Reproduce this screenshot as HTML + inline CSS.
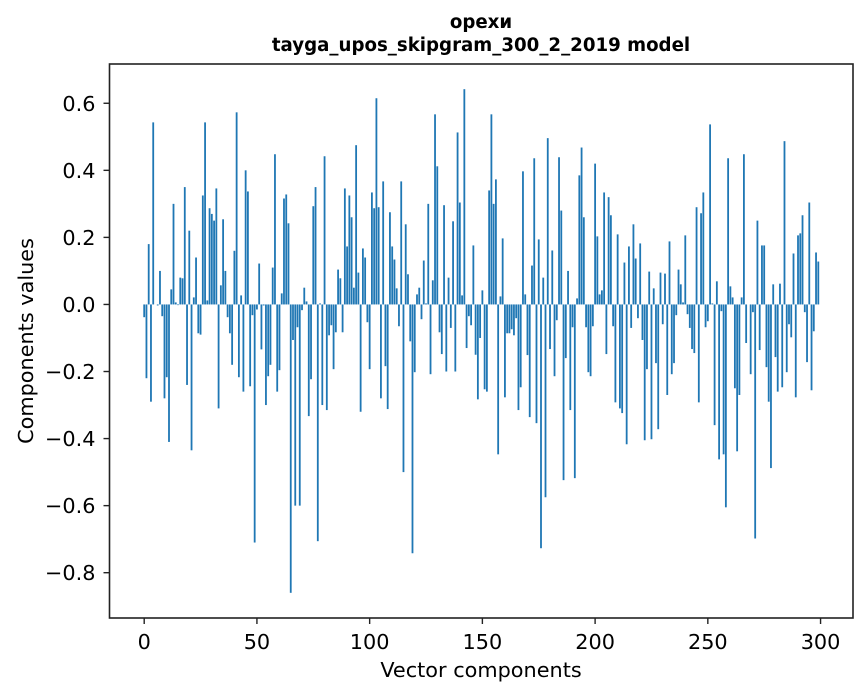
<!DOCTYPE html>
<html><head><meta charset="utf-8"><style>
html,body{margin:0;padding:0;background:#fff;}
svg{display:block;font-family:"DejaVu Sans","Liberation Sans",sans-serif;}
</style></head><body>
<svg id="chart" width="867" height="696" viewBox="0 0 867 696" xmlns="http://www.w3.org/2000/svg">
<rect width="867" height="696" fill="#fff"/>
<text x="481" y="28" text-anchor="middle" font-size="18.2" font-weight="bold" fill="#000">орехи</text>
<text x="481" y="51" text-anchor="middle" font-size="18.2" font-weight="bold" fill="#000">tayga_upos_skipgram_300_2_2019 model</text>
<g id="bars"></g>
<g id="axes"></g>
<text x="481" y="677" text-anchor="middle" font-size="20.8" fill="#000">Vector components</text>
<text transform="translate(33,341) rotate(-90)" text-anchor="middle" font-size="20.8" fill="#000">Components values</text>
</svg>
<script>
const values = [
-0.038,-0.22,0.18,-0.29,0.543,0.0,-0.003,0.10,-0.035,-0.28,
-0.217,-0.41,0.045,0.30,0.006,-0.002,0.08,0.078,0.35,-0.24,
0.22,-0.435,0.021,0.14,-0.086,-0.09,0.325,0.543,0.012,0.287,
0.27,0.25,0.346,-0.31,0.057,0.254,0.10,-0.038,-0.086,-0.18,
0.16,0.573,-0.217,0.027,-0.26,0.40,0.337,-0.244,-0.032,-0.71,
-0.015,0.122,-0.134,-0.003,-0.30,-0.214,-0.18,0.11,0.448,-0.26,
-0.196,0.033,0.316,0.328,0.242,-0.86,-0.106,-0.60,-0.068,-0.60,
-0.017,0.05,0.009,-0.333,-0.223,0.293,0.35,-0.706,0.003,-0.30,
0.442,-0.315,-0.092,-0.062,-0.193,-0.083,0.104,0.078,-0.083,0.346,
0.173,0.325,0.26,0.05,0.475,0.095,-0.32,0.167,0.14,-0.053,
-0.193,0.334,0.287,0.615,0.29,-0.28,0.367,-0.184,-0.312,0.275,
0.173,0.134,0.048,-0.065,0.367,-0.50,0.239,0.09,-0.11,-0.742,
-0.202,0.03,0.05,-0.044,0.131,0.003,0.30,-0.208,0.072,0.567,
0.412,-0.083,-0.148,0.296,-0.2,0.08,-0.07,0.248,-0.2,0.513,
0.304,0.027,0.642,-0.13,-0.035,-0.062,0.176,-0.15,-0.283,-0.10,
0.042,-0.253,-0.26,0.34,0.567,0.30,0.373,-0.447,0.024,0.197,
-0.277,-0.086,-0.086,-0.074,-0.092,-0.041,-0.315,-0.247,0.397,0.03,
-0.151,-0.336,0.116,0.436,-0.354,0.194,-0.727,0.08,-0.575,0.496,
-0.133,0.161,-0.214,-0.047,0.439,0.28,-0.524,-0.16,0.10,-0.315,
-0.068,-0.518,0.018,0.385,0.468,0.26,-0.068,-0.202,-0.214,-0.065,
0.42,0.203,0.03,0.042,0.334,-0.148,0.32,0.266,-0.065,-0.292,
0.209,-0.31,-0.324,0.125,-0.417,0.173,-0.07,0.239,0.137,-0.041,
0.182,-0.106,-0.405,-0.193,0.098,-0.402,0.048,-0.175,-0.372,0.095,
-0.059,0.092,-0.27,0.188,-0.208,-0.175,-0.032,0.104,0.06,0.006,
0.206,-0.029,-0.07,-0.133,-0.145,0.29,-0.292,0.272,0.334,-0.068,
-0.05,0.537,0.003,-0.36,0.069,-0.462,-0.02,-0.447,-0.605,0.436,
0.054,0.021,-0.25,-0.438,-0.27,0.021,0.448,-0.115,0.0,-0.208,
-0.023,-0.698,0.25,-0.136,0.176,0.176,-0.187,-0.29,-0.488,0.06,
-0.157,-0.26,0.062,-0.247,0.487,-0.202,-0.059,-0.098,0.152,-0.277,
0.206,0.212,0.266,-0.023,-0.172,0.304,-0.256,-0.08,0.155,0.128
];
const xTicks = [0,50,100,150,200,250,300];
const yTicks = [-0.8,-0.6,-0.4,-0.2,0.0,0.2,0.4,0.6];
const yTickLabels = ["\u22120.8","\u22120.6","\u22120.4","\u22120.2","0.0","0.2","0.4","0.6"];

const NS = "http://www.w3.org/2000/svg";
const L = 109.5, R = 853, T = 64, B = 618;
const n = values.length;
const xmin = -0.4 - 0.05*(n-0.2), xmax = (n-1)+0.4 + 0.05*(n-0.2);
const vmax = Math.max(0, ...values), vmin = Math.min(0, ...values);
const ymin = vmin - 0.05*(vmax-vmin), ymax = vmax + 0.05*(vmax-vmin);
const xs = v => L + (v - xmin)/(xmax - xmin)*(R - L);
const ys = v => B - (v - ymin)/(ymax - ymin)*(B - T);

const bars = document.getElementById('bars');
values.forEach((v,i) => {
  const r = document.createElementNS(NS,'rect');
  const x0 = xs(i-0.4), x1 = xs(i+0.4);
  const y0 = ys(Math.max(v,0)), y1 = ys(Math.min(v,0));
  r.setAttribute('x', x0); r.setAttribute('width', x1-x0);
  r.setAttribute('y', y0); r.setAttribute('height', Math.max(y1-y0,0));
  r.setAttribute('fill', '#1f77b4');
  
  
  bars.appendChild(r);
});

const axes = document.getElementById('axes');
const frame = document.createElementNS(NS,'rect');
frame.setAttribute('x', L); frame.setAttribute('y', T);
frame.setAttribute('width', R-L); frame.setAttribute('height', B-T);
frame.setAttribute('fill','none'); frame.setAttribute('stroke','#222'); frame.setAttribute('stroke-width','1.6');


axes.appendChild(frame);

xTicks.forEach(t => {
  const x = xs(t);
  const ln = document.createElementNS(NS,'line');
  ln.setAttribute('x1',x); ln.setAttribute('x2',x); ln.setAttribute('y1',B); ln.setAttribute('y2',B+6);
  ln.setAttribute('stroke','#222'); ln.setAttribute('stroke-width','1.4');
  
  
  axes.appendChild(ln);
  const tx = document.createElementNS(NS,'text');
  tx.setAttribute('x',x); tx.setAttribute('y',B+31); tx.setAttribute('text-anchor','middle');
  tx.setAttribute('font-size','20.8'); tx.setAttribute('fill','#000');
  tx.textContent = String(t);
  
  
  axes.appendChild(tx);
});
yTicks.forEach((t,k) => {
  const y = ys(t);
  const ln = document.createElementNS(NS,'line');
  ln.setAttribute('x1',L-6); ln.setAttribute('x2',L); ln.setAttribute('y1',y); ln.setAttribute('y2',y);
  ln.setAttribute('stroke','#222'); ln.setAttribute('stroke-width','1.4');
  
  
  axes.appendChild(ln);
  const tx = document.createElementNS(NS,'text');
  tx.setAttribute('x',L-14); tx.setAttribute('y',y+7.5); tx.setAttribute('text-anchor','end');
  tx.setAttribute('font-size','20.8'); tx.setAttribute('fill','#000');
  tx.textContent = yTickLabels[k];
  
  
  axes.appendChild(tx);
});
</script>
</body></html>
